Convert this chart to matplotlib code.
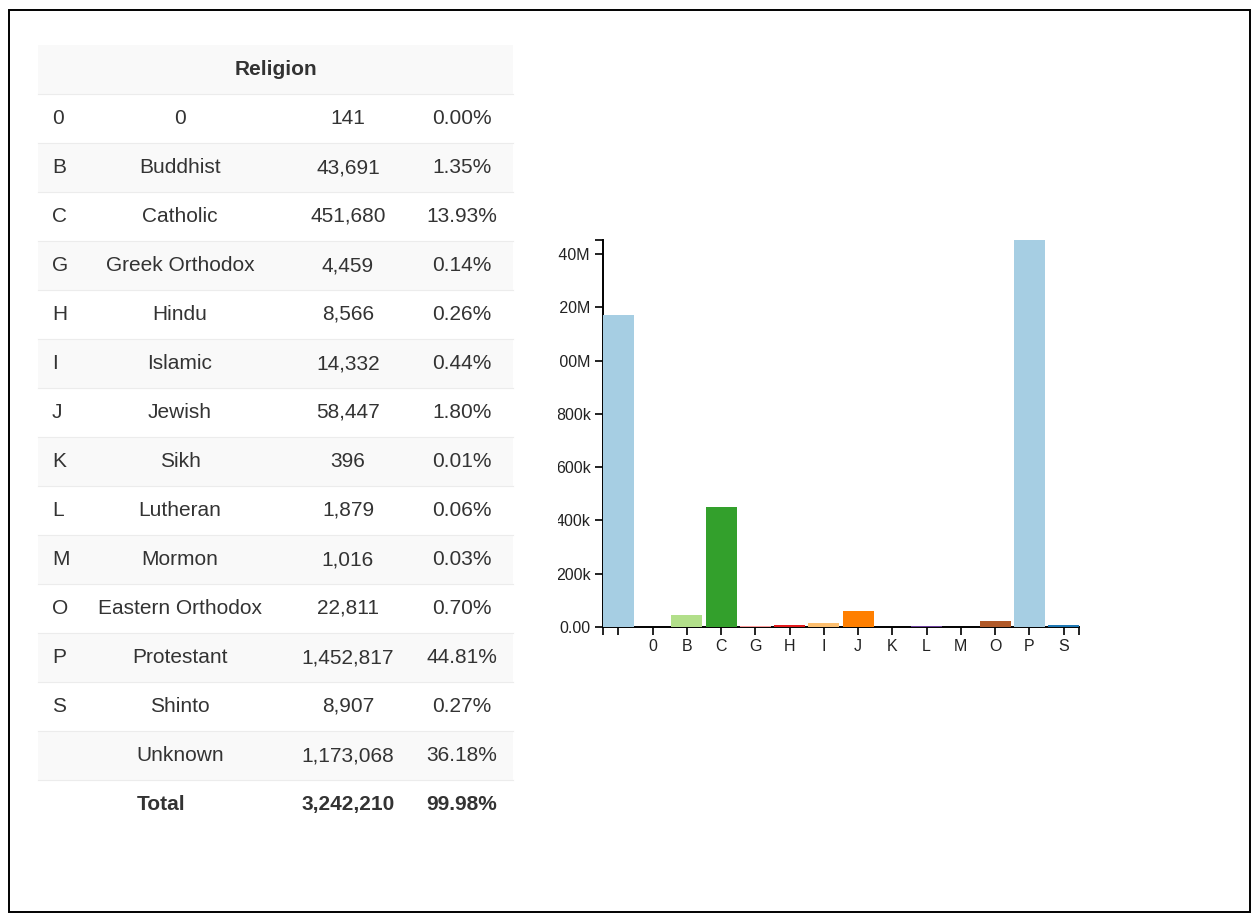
import matplotlib
matplotlib.use("Agg")
import matplotlib.pyplot as plt
from matplotlib.patches import Rectangle
from matplotlib.transforms import Bbox

plt.rcParams["font.family"] = ["Liberation Sans", "DejaVu Sans"]

# table rows
codes = ["0", "B", "C", "G", "H", "I", "J", "K", "L", "M", "O", "P", "S", ""]
names = ["0", "Buddhist", "Catholic", "Greek Orthodox", "Hindu", "Islamic", "Jewish",
         "Sikh", "Lutheran", "Mormon", "Eastern Orthodox", "Protestant", "Shinto", "Unknown"]
counts = [141, 43691, 451680, 4459, 8566, 14332, 58447, 396, 1879, 1016, 22811,
          1452817, 8907, 1173068]
percents = [0.00, 1.35, 13.93, 0.14, 0.26, 0.44, 1.80, 0.01, 0.06, 0.03, 0.70,
            44.81, 0.27, 36.18]
total_count = 3242210
total_percent = 99.98

# bar chart
bar_codes = ["", "0", "B", "C", "G", "H", "I", "J", "K", "L", "M", "O", "P", "S"]
bar_counts = [1173068, 141, 43691, 451680, 4459, 8566, 14332, 58447, 396, 1879, 1016,
              22811, 1452817, 8907]
y_ticks = [0, 200000, 400000, 600000, 800000, 1000000, 1200000, 1400000]
y_tick_labels = ["0.00", "200k", "400k", "600k", "800k", "1.00M", "1.20M", "1.40M"]

palette = ["#a6cee3", "#1f78b4", "#b2df8a", "#33a02c", "#fb9a99", "#e31a1c", "#fdbf6f",
           "#ff7f00", "#cab2d6", "#6a3d9a", "#ffff99", "#b15928"]

W, H = 1259, 914
fig = plt.figure(figsize=(W / 100, H / 100), dpi=100)

# table drawn in pixel coordinates
tab = fig.add_axes([0, 0, 1, 1])
tab.set_xlim(0, W)
tab.set_ylim(H, 0)
tab.axis("off")

tab.add_patch(Rectangle((9.5, 10), 1241, 902, fill=False, lw=1.4, ec="black"))

left, right = 38, 513
row_h = 49
header_y = 69.5
txt = "#333333"
fs = 15

tab.add_patch(Rectangle((left, header_y - row_h / 2), right - left, row_h, fc="#f9f9f9", ec="none"))
tab.text((left + right) / 2, header_y, "Religion", ha="center", va="center",
         fontsize=fs, fontweight="bold", color=txt)

for i, (code, name, count, pct) in enumerate(zip(codes, names, counts, percents)):
    y = header_y + row_h * (i + 1)
    if i % 2 == 1:
        tab.add_patch(Rectangle((left, y - row_h / 2), right - left, row_h, fc="#f9f9f9", ec="none"))
    tab.plot([left, right], [y - row_h / 2, y - row_h / 2], color="#ececec", lw=0.8)
    tab.text(52, y, code, ha="left", va="center", fontsize=fs, color=txt)
    tab.text(180, y, name, ha="center", va="center", fontsize=fs, color=txt)
    tab.text(348, y, f"{count:,}", ha="center", va="center", fontsize=fs, color=txt)
    tab.text(462, y, f"{pct:.2f}%", ha="center", va="center", fontsize=fs, color=txt)

y = header_y + row_h * (len(codes) + 1)
tab.plot([left, right], [y - row_h / 2, y - row_h / 2], color="#ececec", lw=0.8)
tab.text(161, y, "Total", ha="center", va="center", fontsize=fs, fontweight="bold", color=txt)
tab.text(348, y, f"{total_count:,}", ha="center", va="center", fontsize=fs, fontweight="bold", color=txt)
tab.text(462, y, f"{total_percent:.2f}%", ha="center", va="center", fontsize=fs, fontweight="bold", color=txt)

# bar chart
ax = fig.add_axes([603 / W, 1 - 627 / H, (1079 - 603) / W, (627 - 240) / H])
ax.patch.set_alpha(0)
colors = [palette[i % len(palette)] for i in range(len(bar_codes))]
x = list(range(len(bar_codes)))
ax.bar(x, bar_counts, width=0.9, color=colors, linewidth=0, zorder=3)
ax.set_xlim(-0.45, len(bar_codes) - 0.55)
ax.set_ylim(0, max(bar_counts))

ax.set_xticks(x)
ax.set_xticklabels(bar_codes)
ax.set_yticks(y_ticks)
ax.set_yticklabels(y_tick_labels)
ax.set_xticks([-0.45, len(bar_codes) - 0.55], minor=True)
ax.set_yticks([max(bar_counts)], minor=True)

for s in ["top", "right"]:
    ax.spines[s].set_visible(False)
for s in ["left", "bottom"]:
    ax.spines[s].set_linewidth(1.4)
    ax.spines[s].set_color("black")
ax.tick_params(which="both", direction="out", length=5.8, width=1.4, color="#222222",
               labelsize=11.5, labelcolor="#222222")
ax.tick_params(axis="x", pad=3)
ax.tick_params(axis="y", pad=3)

clip = Bbox([[558, 0], [W, H]])
for lbl in ax.get_yticklabels():
    lbl.set_clip_box(clip)
    lbl.set_clip_on(True)

fig.savefig("out.png", dpi=100)
